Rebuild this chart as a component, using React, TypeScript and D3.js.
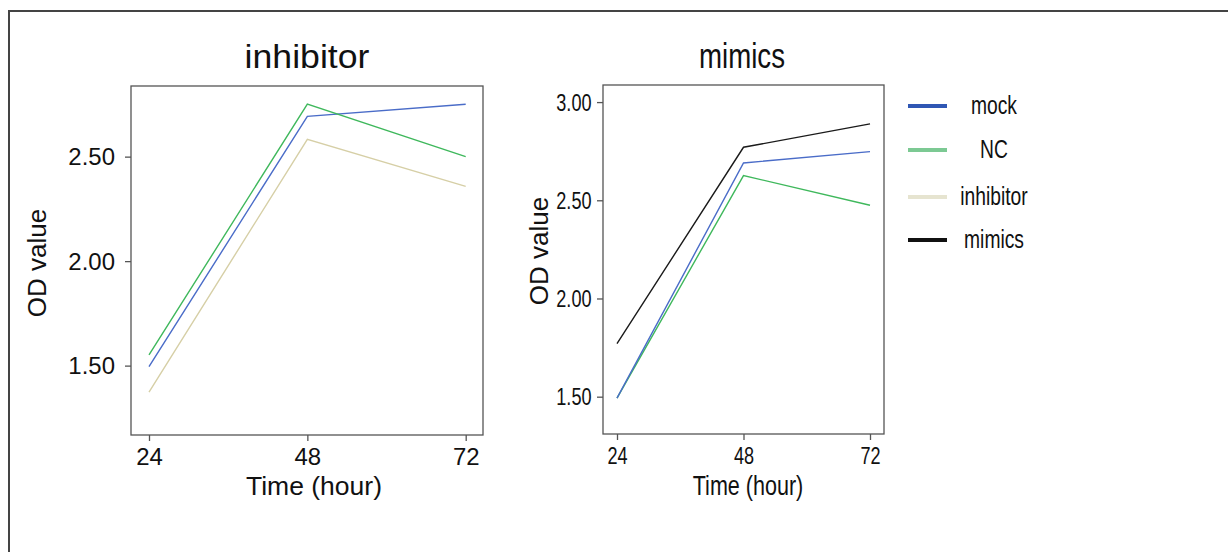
import React, { useEffect, useRef } from 'react';
import * as d3 from 'd3';

const hours = [24, 48, 72];
const seriesNames = ['mock', 'NC', 'inhibitor', 'mimics'];
const lineColors = ['#4a6cc8', '#3fb85c', '#d6cfa6', '#1a1a1a'];
const legendColors = ['#2f57b4', '#7cc993', '#e6e4d0', '#111111'];

// inhibitor panel
const inhibitorMock = [1.495, 2.693, 2.751];
const inhibitorNC = [1.551, 2.751, 2.5];
const inhibitorInh = [1.373, 2.583, 2.358];

// mimics panel
const mimicsMock = [1.493, 2.69, 2.748];
const mimicsNC = [1.493, 2.626, 2.475];
const mimicsMim = [1.77, 2.77, 2.889];

const yTicksLeft = [1.5, 2.0, 2.5];
const yTicksRight = [1.5, 2.0, 2.5, 3.0];

const FONT = 'Liberation Sans, Arial, Helvetica, sans-serif';

function App() {
  const svgRef = useRef(null);

  useEffect(() => {
    const svg = d3.select(svgRef.current);
    svg.selectAll('*').remove();

    // outer frame (left + top edges)
    svg.append('path')
      .attr('d', 'M9,552 V11 H1228')
      .attr('fill', 'none')
      .attr('stroke', '#444')
      .attr('stroke-width', 2);

    // text squeezed / stretched horizontally like the source image
    const label = (parent, x, y, txt, size, sx, anchor = 'middle') =>
      parent.append('text')
        .attr('transform', `translate(${x},${y}) scale(${sx},1)`)
        .attr('text-anchor', anchor)
        .style('font-family', FONT)
        .style('font-size', size)
        .attr('fill', '#111')
        .text(txt);

    const drawPanel = (opts) => {
      const { left, right, top, bottom, xRange, yDomain, yTicks, title, series, sx } = opts;
      const x = d3.scaleLinear().domain([24, 72]).range(xRange);
      const y = d3.scaleLinear().domain(yDomain).range([bottom, top]);
      const g = svg.append('g');

      g.append('rect')
        .attr('x', left).attr('y', top)
        .attr('width', right - left).attr('height', bottom - top)
        .attr('fill', 'none').attr('stroke', '#555').attr('stroke-width', 1.3);

      const xAxis = g.append('g')
        .attr('transform', `translate(0,${bottom})`)
        .call(d3.axisBottom(x).tickValues(hours).tickSize(6).tickFormat(d3.format('d')));
      xAxis.select('.domain').remove();

      const yAxis = g.append('g')
        .attr('transform', `translate(${left},0)`)
        .call(d3.axisLeft(y).tickValues(yTicks).tickSize(6).tickFormat(d3.format('.2f')));
      yAxis.select('.domain').remove();

      [xAxis, yAxis].forEach(a => {
        a.selectAll('line').attr('stroke', '#555').attr('stroke-width', 1.3);
        a.selectAll('text').attr('fill', '#111')
          .style('font-size', opts.tickSize).style('font-family', FONT)
          .attr('transform', `scale(${sx},1)`);
      });
      xAxis.selectAll('text').attr('y', 30).attr('dy', 0);
      yAxis.selectAll('text').attr('x', -opts.yLabelGap / sx).attr('dy', '0.35em');

      const line = d3.line().x((d, i) => x(hours[i])).y(d => y(d));
      series.forEach(s => {
        g.append('path')
          .datum(s.values)
          .attr('d', line)
          .attr('fill', 'none')
          .attr('stroke', s.color)
          .attr('stroke-width', 1.4);
      });

      label(g, opts.titleX, 68, title, opts.titleSize, opts.titleSx);
      label(g, opts.xLabelX, 495, 'Time (hour)', opts.xLabelSize, sx);

      g.append('text')
        .attr('transform', `translate(${opts.yLabelX},${opts.yLabelY}) rotate(-90)`)
        .attr('text-anchor', 'middle')
        .style('font-family', FONT)
        .style('font-size', '26px')
        .attr('fill', '#111')
        .text('OD value');
    };

    drawPanel({
      left: 131, right: 483, top: 86, bottom: 435,
      xRange: [149, 465.7],
      yDomain: [1.168, 2.838],
      yTicks: yTicksLeft,
      title: 'inhibitor', titleSize: '33px', titleSx: 1.08, titleX: 307,
      xLabelX: 314, xLabelSize: '26px',
      tickSize: '23.5px', yLabelGap: 16, sx: 1.02,
      yLabelX: 46, yLabelY: 263,
      series: [
        { values: inhibitorInh, color: lineColors[2] },
        { values: inhibitorMock, color: lineColors[0] },
        { values: inhibitorNC, color: lineColors[1] },
      ],
    });

    drawPanel({
      left: 603, right: 884, top: 85, bottom: 434,
      xRange: [617, 870],
      yDomain: [1.31, 3.087],
      yTicks: yTicksRight,
      title: 'mimics', titleSize: '35px', titleSx: 0.79, titleX: 742,
      xLabelX: 748, xLabelSize: '28px',
      tickSize: '23.5px', yLabelGap: 11.5, sx: 0.77,
      yLabelX: 548, yLabelY: 251,
      series: [
        { values: mimicsMim, color: lineColors[3] },
        { values: mimicsNC, color: lineColors[1] },
        { values: mimicsMock, color: lineColors[0] },
      ],
    });

    // legend
    const legendY = d3.scalePoint().domain(seriesNames).range([106, 240]);
    const legendRowY = { mock: 106, NC: 150, inhibitor: 197, mimics: 240 };
    const lg = svg.append('g');
    seriesNames.forEach((name, i) => {
      const yy = legendRowY[name] ?? legendY(name);
      lg.append('line')
        .attr('x1', 908).attr('x2', 947)
        .attr('y1', yy).attr('y2', yy)
        .attr('stroke', legendColors[i]).attr('stroke-width', 4);
      label(lg, 994, yy + 8, name, '25px', 0.77);
    });
  }, []);

  return (
    <svg ref={svgRef} width={1228} height={552}
      style={{ position: 'absolute', left: 0, top: 0, background: '#fff' }} />
  );
}

export default App;
